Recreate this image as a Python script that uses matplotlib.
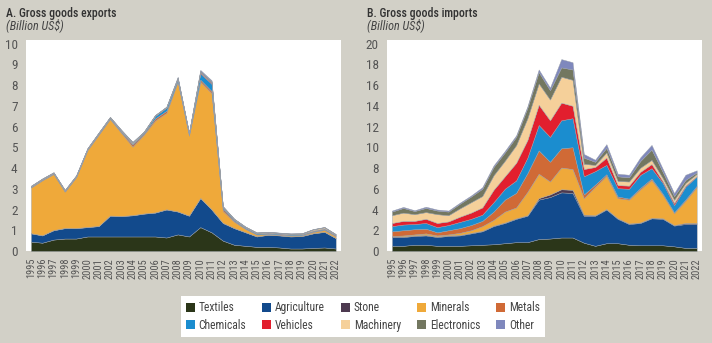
import matplotlib
matplotlib.use("Agg")
import matplotlib.pyplot as plt
from matplotlib.patches import Patch

plt.rcParams['font.family'] = ['Roboto Condensed', 'Archivo Narrow', 'DejaVu Sans']

years = list(range(1995, 2023))
categories = ["Textiles", "Agriculture", "Stone", "Minerals", "Metals",
              "Chemicals", "Vehicles", "Machinery", "Electronics", "Other"]
colors = ["#2b3619", "#124a8c", "#4d3a50", "#efa93a", "#d06a36",
          "#1b8dcf", "#e21f2e", "#f5d09a", "#737760", "#7f88bd"]

# ---- Exports (billion US$) ----
exp_textiles = [0.45, 0.40, 0.55, 0.60, 0.60, 0.70, 0.70, 0.70, 0.70, 0.70, 0.70, 0.70, 0.65, 0.80,
                0.70, 1.15, 0.90, 0.50, 0.30, 0.25, 0.20, 0.20, 0.17, 0.12, 0.12, 0.15, 0.17, 0.12]
exp_agriculture = [0.40, 0.35, 0.45, 0.50, 0.50, 0.45, 0.50, 1.00, 0.98, 1.02, 1.10, 1.15, 1.35, 1.10,
                   1.00, 1.40, 1.10, 0.85, 0.80, 0.65, 0.50, 0.58, 0.58, 0.58, 0.60, 0.70, 0.75, 0.50]
exp_stone = [0.01] * 28
exp_minerals = [2.20, 2.65, 2.70, 1.75, 2.45, 3.70, 4.40, 4.65, 4.00, 3.30, 3.80, 4.43, 4.65, 6.25,
                3.85, 5.60, 5.60, 0.57, 0.30, 0.15, 0.08, 0.03, 0.03, 0.04, 0.03, 0.06, 0.08, 0.08]
exp_metals = [0.02, 0.02, 0.02, 0.02, 0.02, 0.03, 0.03, 0.03, 0.05, 0.10, 0.05, 0.10, 0.10, 0.05,
              0.05, 0.10, 0.10, 0.10, 0.05, 0.03, 0.02, 0.02, 0.02, 0.02, 0.02, 0.03, 0.03, 0.03]
exp_chemicals = [0.02, 0.02, 0.02, 0.02, 0.02, 0.02, 0.03, 0.03, 0.05, 0.05, 0.05, 0.12, 0.15, 0.10,
                 0.05, 0.30, 0.35, 0.08, 0.05, 0.04, 0.04, 0.04, 0.03, 0.03, 0.03, 0.03, 0.04, 0.03]
exp_vehicles = [0.01] * 15 + [0.05, 0.05] + [0.01] * 11
exp_machinery = [0.02] * 9 + [0.05] + [0.02] * 15 + [0.05, 0.05, 0.02]
exp_electronics = [0.01] * 15 + [0.05, 0.05] + [0.01] * 11
exp_other = [0.01] * 13 + [0.05, 0.01, 0.05, 0.05] + [0.01] * 11

# ---- Imports (billion US$) ----
imp_textiles = [0.50, 0.50, 0.60, 0.60, 0.50, 0.50, 0.50, 0.55, 0.60, 0.65, 0.75, 0.85, 0.85, 1.15,
                1.20, 1.30, 1.30, 0.80, 0.50, 0.75, 0.75, 0.60, 0.55, 0.55, 0.55, 0.45, 0.30, 0.30]
imp_agriculture = [0.85, 0.85, 0.85, 0.90, 0.85, 0.95, 1.00, 1.15, 1.30, 1.75, 1.95, 2.25, 2.55, 3.80,
                   4.00, 4.35, 4.30, 2.60, 2.90, 3.25, 2.35, 2.00, 2.15, 2.60, 2.55, 2.00, 2.30, 2.30]
imp_stone = [0.05] * 13 + [0.15, 0.25, 0.30, 0.30, 0.10] + [0.05] * 8 + [0.10, 0.10]
imp_minerals = [0.05, 0.10, 0.10, 0.15, 0.10, 0.10, 0.20, 0.25, 0.45, 0.55, 1.05, 1.05, 2.25, 2.35,
                1.25, 2.10, 2.00, 1.60, 2.75, 3.20, 1.95, 2.30, 3.20, 3.65, 2.25, 1.15, 2.15, 3.45]
imp_metals = [0.45, 0.50, 0.50, 0.45, 0.30, 0.40, 0.45, 0.50, 0.50, 0.80, 1.15, 1.40, 1.80, 2.25,
              1.90, 1.85, 2.10, 0.35, 0.20, 0.15, 0.15, 0.10, 0.13, 0.13, 0.10, 0.08, 0.10, 0.13]
imp_chemicals = [0.50, 0.55, 0.50, 0.55, 0.50, 0.50, 0.60, 0.60, 0.60, 0.90, 1.05, 1.20, 1.50, 2.45,
                 2.40, 2.70, 2.80, 1.75, 1.30, 0.90, 0.80, 0.95, 1.25, 1.00, 1.05, 0.70, 1.25, 0.90]
imp_vehicles = [0.30, 0.35, 0.30, 0.40, 0.40, 0.35, 0.50, 0.60, 0.70, 1.20, 1.20, 1.70, 1.70, 1.95,
                1.60, 1.70, 1.20, 0.70, 0.40, 0.70, 0.30, 0.30, 0.30, 0.40, 0.15, 0.20, 0.10, 0.05]
imp_machinery = [0.75, 0.80, 0.65, 0.65, 0.85, 0.60, 0.80, 1.00, 1.10, 1.40, 1.50, 1.70, 2.10, 2.05,
                 2.00, 2.50, 2.50, 0.50, 0.20, 0.50, 0.40, 0.40, 0.40, 0.40, 0.30, 0.30, 0.25, 0.20]
imp_electronics = [0.35, 0.45, 0.30, 0.40, 0.35, 0.35, 0.45, 0.55, 0.70, 0.80, 0.80, 0.80, 1.00, 1.10,
                   0.90, 0.90, 1.00, 0.60, 0.30, 0.45, 0.45, 0.40, 0.65, 1.00, 0.60, 0.35, 0.30, 0.15]
imp_other = [0.10, 0.10, 0.08, 0.12, 0.10, 0.10, 0.10, 0.10, 0.15, 0.15, 0.15, 0.15, 0.15, 0.25,
             0.25, 0.80, 0.70, 0.35, 0.20, 0.35, 0.25, 0.25, 0.35, 0.45, 0.30, 0.30, 0.50, 0.20]

exports = [exp_textiles, exp_agriculture, exp_stone, exp_minerals, exp_metals,
           exp_chemicals, exp_vehicles, exp_machinery, exp_electronics, exp_other]
imports = [imp_textiles, imp_agriculture, imp_stone, imp_minerals, imp_metals,
           imp_chemicals, imp_vehicles, imp_machinery, imp_electronics, imp_other]

bg = "#d2d0c7"
tick_col = "#555555"

fig = plt.figure(figsize=(7.12, 3.43), dpi=100, facecolor=bg)

def panel(rect, data, ymax, step):
    ax = fig.add_axes(rect)
    ax.set_facecolor("white")
    x = list(range(len(years)))
    ax.stackplot(x, *data, colors=colors, edgecolor="#9aa0a8", linewidth=0.3)
    ax.set_xlim(-0.44, len(years) - 1 + 0.47)
    ax.set_ylim(0, ymax * 1.017)
    ax.set_yticks(list(range(0, ymax + 1, step)))
    ax.set_xticks(x)
    ax.set_xticklabels([str(y) for y in years], rotation=90, fontsize=7.5, color=tick_col)
    ax.tick_params(axis="y", labelsize=9.5, colors=tick_col, length=0, pad=6)
    ax.tick_params(axis="x", length=0, pad=5)
    for s in ax.spines.values():
        s.set_visible(False)
    return ax

axL = panel([26 / 712, 1 - 251 / 343, 315 / 712, 211 / 343], exports, 10, 1)
axR = panel([387 / 712, 1 - 251 / 343, 315 / 712, 211 / 343], imports, 20, 2)

for x0, t in [(6, "A. Gross goods exports"), (367, "B. Gross goods imports")]:
    fig.text(x0 / 712, 1 - 13 / 343, t, fontsize=8.5, weight="medium",
             color="#333333", va="center")
    fig.text(x0 / 712, 1 - 25.5 / 343, "(Billion US$)", fontsize=8.7, style="italic",
             color="#444444", va="center")

handles = [Patch(facecolor=c, edgecolor="none", label=l) for c, l in zip(colors, categories)]
order = [0, 5, 1, 6, 2, 7, 3, 8, 4, 9]
leg = fig.legend([handles[i] for i in order], [categories[i] for i in order],
                 ncol=5, loc="center", bbox_to_anchor=(363 / 712, 1 - 316.5 / 343),
                 frameon=True, fancybox=False, edgecolor="none", facecolor="white",
                 framealpha=1, fontsize=8.3, handlelength=0.75, handleheight=0.9,
                 handletextpad=0.35, columnspacing=1.4, labelspacing=0.35,
                 borderpad=0.45, borderaxespad=0, labelcolor="#444444")
leg.get_frame().set_linewidth(0)

fig.savefig("out.png", dpi=100, facecolor=bg)
